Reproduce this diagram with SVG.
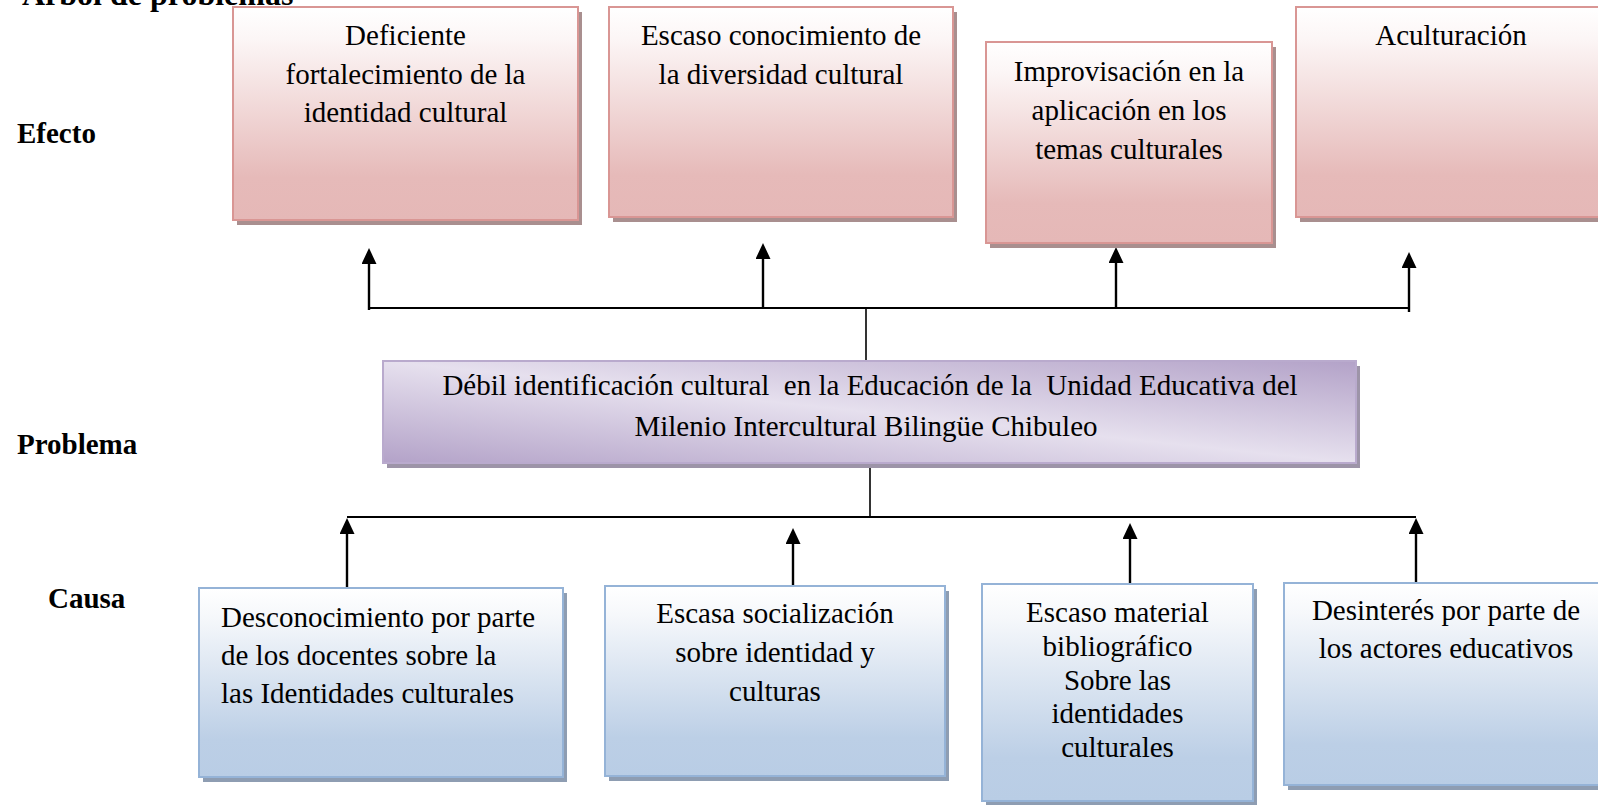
<svg xmlns="http://www.w3.org/2000/svg" width="1598" height="805" viewBox="0 0 1598 805">
<style>
.t{font-family:"Liberation Serif","Times New Roman",serif;font-size:29px;fill:#000}
.c{text-anchor:middle}
.lbl{font-family:"Liberation Serif","Times New Roman",serif;font-size:29px;font-weight:bold;fill:#000}
.eb{fill:url(#gE);stroke:#d99694;stroke-width:2}
.es{fill:#a98f8f}
.cb{fill:url(#gC);stroke:#95b3d7;stroke-width:2}
.cs{fill:#8e9db2}
.pb{fill:url(#gP);stroke:#b9aacd;stroke-width:2}
.ps{fill:#9d94a8}
.ln{stroke:#000;stroke-width:2.2;fill:none}
.thin{stroke:#000;stroke-width:1.6;fill:none}
.ar{stroke:#000;stroke-width:2.4;fill:none;marker-end:url(#ah)}
</style>
<defs>
<linearGradient id="gE" x1="0" y1="0" x2="0" y2="1">
<stop offset="0" stop-color="#ffffff"/>
<stop offset="0.15" stop-color="#fcf6f6"/>
<stop offset="0.8" stop-color="#e6bab9"/>
<stop offset="1" stop-color="#e5b8b7"/>
</linearGradient>
<linearGradient id="gC" x1="0" y1="0" x2="0" y2="1">
<stop offset="0" stop-color="#ffffff"/>
<stop offset="0.15" stop-color="#f6f8fb"/>
<stop offset="0.8" stop-color="#bccfe6"/>
<stop offset="1" stop-color="#b9cde5"/>
</linearGradient>
<linearGradient id="gP" x1="0" y1="1" x2="1" y2="0">
<stop offset="0" stop-color="#b3a2c8"/>
<stop offset="0.5" stop-color="#e6e0ee"/>
<stop offset="1" stop-color="#b3a2c8"/>
</linearGradient>
<marker id="ah" markerUnits="userSpaceOnUse" viewBox="0 0 16 15" refX="8" refY="7.5" markerWidth="16" markerHeight="15" orient="auto">
<path d="M0,0 L16,7.5 L0,15 z" fill="#000"/>
</marker>
</defs>

<text class="lbl" x="22" y="4.5" style="font-size:32px">Árbol de problemas</text>
<text class="lbl" x="17" y="143">Efecto</text>
<text class="lbl" x="17" y="454">Problema</text>
<text class="lbl" x="48" y="608">Causa</text>

<g id="connectors">
<line class="ln" x1="369" y1="308" x2="1409" y2="308"/>
<line class="ar" x1="369" y1="310" x2="369" y2="256"/>
<line class="ar" x1="763" y1="307" x2="763" y2="251"/>
<line class="ar" x1="1116" y1="307" x2="1116" y2="255"/>
<line class="ar" x1="1409" y1="312" x2="1409" y2="260"/>
<line class="thin" x1="866" y1="308" x2="866" y2="361"/>
<line class="thin" x1="870" y1="467" x2="870" y2="517"/>
<line class="ln" x1="347" y1="517" x2="1416" y2="517"/>
<line class="ar" x1="347" y1="592" x2="347" y2="526"/>
<line class="ar" x1="793" y1="590" x2="793" y2="536"/>
<line class="ar" x1="1130" y1="585" x2="1130" y2="531"/>
<line class="ar" x1="1416" y1="582" x2="1416" y2="526"/>
</g>

<g id="efecto1">
<rect class="es" x="237" y="12" width="345" height="213"/>
<rect class="eb" x="233" y="7" width="345" height="213"/>
<text class="t c" x="405.5" y="45">Deficiente</text>
<text class="t c" x="405.5" y="84">fortalecimiento de la</text>
<text class="t c" x="405.5" y="122">identidad cultural</text>
</g>
<g id="efecto2">
<rect class="es" x="613" y="12" width="344" height="210"/>
<rect class="eb" x="609" y="7" width="344" height="210"/>
<text class="t c" x="781" y="45">Escaso conocimiento de</text>
<text class="t c" x="781" y="84">la diversidad cultural</text>
</g>
<g id="efecto3">
<rect class="es" x="990" y="47" width="286" height="201"/>
<rect class="eb" x="986" y="42" width="286" height="201"/>
<text class="t c" x="1129" y="81">Improvisación en la</text>
<text class="t c" x="1129" y="120">aplicación en los</text>
<text class="t c" x="1129" y="159">temas culturales</text>
</g>
<g id="efecto4">
<rect class="es" x="1300" y="12" width="310" height="210"/>
<rect class="eb" x="1296" y="7" width="310" height="210"/>
<text class="t c" x="1451" y="45">Aculturación</text>
</g>

<g id="problema">
<rect class="ps" x="387" y="366" width="973" height="102"/>
<rect class="pb" x="383" y="361" width="973" height="102"/>
<text class="t c" x="870" y="395" xml:space="preserve" style="white-space:pre">Débil identificación cultural  en la Educación de la  Unidad Educativa del</text>
<text class="t c" x="866" y="436">Milenio Intercultural Bilingüe Chibuleo</text>
</g>

<g id="causa1">
<rect class="cs" x="203" y="593" width="364" height="189"/>
<rect class="cb" x="199" y="588" width="364" height="189"/>
<text class="t" x="221" y="627">Desconocimiento por parte</text>
<text class="t" x="221" y="665">de los docentes sobre la</text>
<text class="t" x="221" y="703">las Identidades culturales</text>
</g>
<g id="causa2">
<rect class="cs" x="609" y="591" width="340" height="190"/>
<rect class="cb" x="605" y="586" width="340" height="190"/>
<text class="t c" x="775" y="623">Escasa socialización</text>
<text class="t c" x="775" y="662">sobre identidad y</text>
<text class="t c" x="775" y="701">culturas</text>
</g>
<g id="causa3">
<rect class="cs" x="986" y="589" width="271" height="217"/>
<rect class="cb" x="982" y="584" width="271" height="217"/>
<text class="t c" x="1117.5" y="622">Escaso material</text>
<text class="t c" x="1117.5" y="656">bibliográfico</text>
<text class="t c" x="1117.5" y="690">Sobre las</text>
<text class="t c" x="1117.5" y="723">identidades</text>
<text class="t c" x="1117.5" y="757">culturales</text>
</g>
<g id="causa4">
<rect class="cs" x="1288" y="588" width="322" height="202"/>
<rect class="cb" x="1284" y="583" width="322" height="202"/>
<text class="t c" x="1446" y="620">Desinterés por parte de</text>
<text class="t c" x="1446" y="658">los actores educativos</text>
</g>
</svg>
